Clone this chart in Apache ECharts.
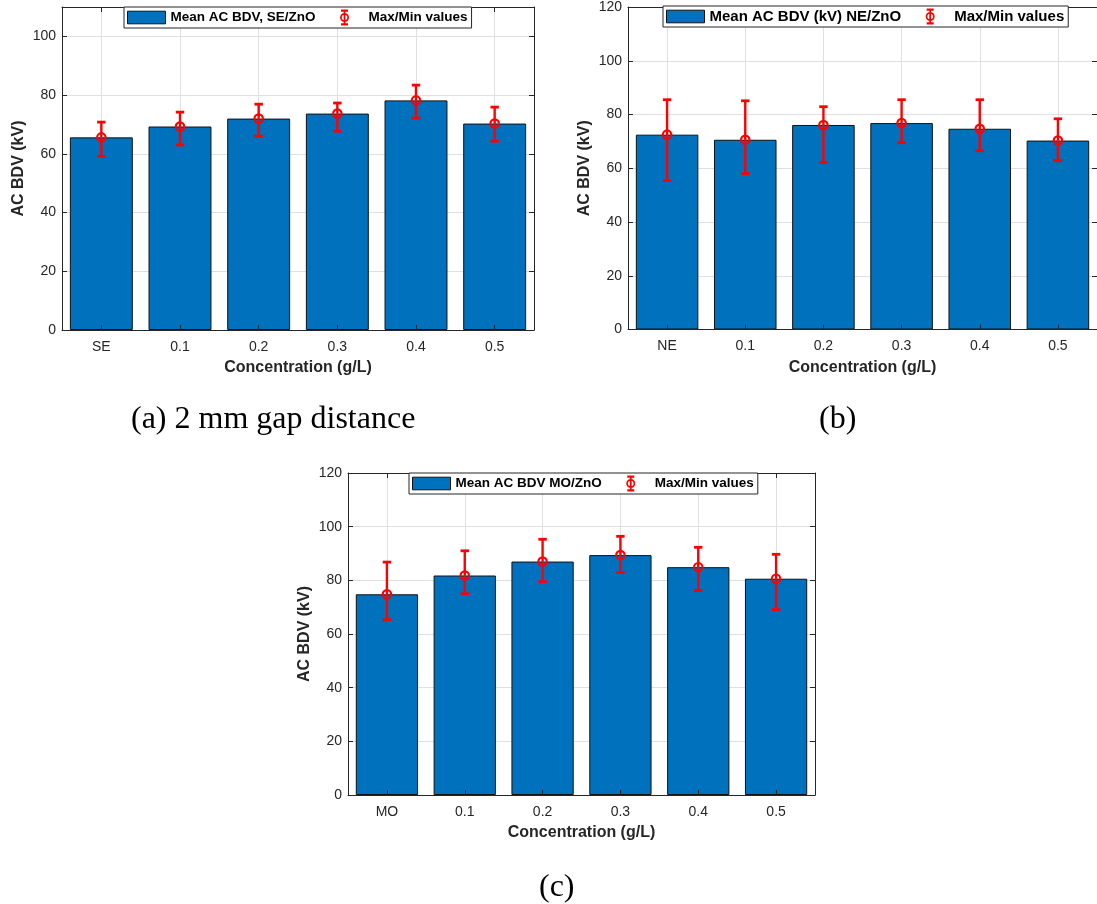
<!DOCTYPE html>
<html><head><meta charset="utf-8">
<script src="https://cdn.jsdelivr.net/npm/echarts@6/dist/echarts.min.js"></script>
<style>html,body{margin:0;padding:0;background:#fff}#c{width:1097px;height:904px}</style>
</head><body><div id="c"></div><script>
// ---- data ----
const catsA = ['SE', '0.1', '0.2', '0.3', '0.4', '0.5'];
const meanA = [65.6, 69.3, 72.0, 73.7, 78.2, 70.3];
const minA  = [59.1, 63.0, 66.0, 67.7, 72.2, 64.3];
const maxA  = [70.8, 74.2, 76.9, 77.3, 83.4, 75.9];

const catsB = ['NE', '0.1', '0.2', '0.3', '0.4', '0.5'];
const meanB = [72.5, 70.6, 76.1, 76.8, 74.7, 70.3];
const minB  = [55.4, 58.0, 62.1, 69.5, 66.5, 62.8];
const maxB  = [85.5, 85.1, 82.9, 85.5, 85.5, 78.4];

const catsC = ['MO', '0.1', '0.2', '0.3', '0.4', '0.5'];
const meanC = [74.8, 81.8, 87.0, 89.4, 84.9, 80.6];
const minC  = [65.3, 75.0, 79.5, 82.9, 76.2, 69.1];
const maxC  = [86.8, 91.0, 95.3, 96.4, 92.3, 89.7];

const yMaxes = [110, 120, 120];
const barNames = ['Mean AC BDV, SE/ZnO', 'Mean AC BDV (kV) NE/ZnO', 'Mean AC BDV MO/ZnO'];
const errName = 'Max/Min values';
const xTitle = 'Concentration (g/L)';
const yTitle = 'AC BDV (kV)';
const captions = ['(a) 2 mm gap distance', '(b)', '(c)'];

// ---- styling ----
const FONT = "'Liberation Sans', Arial, Helvetica, sans-serif";
const SERIF = "'Liberation Serif', 'Times New Roman', serif";
const AX = '#262626';
const GRIDC = '#e0e0e0';
const BLUE = '#0072BD';
const RED = '#ff0000';

const barIcon = 'path://M0 1.7L38 1.7L38 14.3L0 14.3Z M0 0 M38 16';
const errIcon = 'path://M0 8 M38 8 ' +
  'M18.1 1L19.9 1L19.9 15L18.1 15Z ' +
  'M15.5 0L22.5 0L22.5 2.2L15.5 2.2Z ' +
  'M15.5 13.8L22.5 13.8L22.5 16L15.5 16Z ' +
  'M23.5 8A4.5 4.5 0 1 1 14.5 8A4.5 4.5 0 1 1 23.5 8Z ' +
  'M21.8 8A2.8 2.8 0 1 0 16.2 8A2.8 2.8 0 1 0 21.8 8Z';

const panels = [
  {cats: catsA, mean: meanA, lo: minA, hi: maxA},
  {cats: catsB, mean: meanB, lo: minB, hi: maxB},
  {cats: catsC, mean: meanC, lo: minC, hi: maxC}
];
const grids = [
  {left: 62, top: 7, width: 472, height: 323},
  {left: 628, top: 6, width: 473, height: 323.5},
  {left: 348, top: 473, width: 467, height: 322}
];
const legendPos = [
  {left: 124, top: 7, fs: 13.5, ih: 16},
  {left: 663, top: 6, fs: 15, ih: 17},
  {left: 409, top: 473, fs: 13.5, ih: 16}
];
const captionPos = [[131, 404], [819, 404], [539, 872]];

function errRender(params, api) {
  const i = api.value(0);
  const c = api.coord([i, api.value(1)]);
  const lo = api.coord([i, api.value(2)]);
  const hi = api.coord([i, api.value(3)]);
  const hw = 4.2;
  const st = {stroke: RED, lineWidth: 2.4, fill: null};
  return {type: 'group', children: [
    {type: 'line', shape: {x1: c[0], y1: hi[1], x2: c[0], y2: lo[1]}, style: st},
    {type: 'line', shape: {x1: c[0] - hw, y1: hi[1], x2: c[0] + hw, y2: hi[1]}, style: {stroke: RED, lineWidth: 2.8}},
    {type: 'line', shape: {x1: c[0] - hw, y1: lo[1], x2: c[0] + hw, y2: lo[1]}, style: {stroke: RED, lineWidth: 2.8}},
    {type: 'circle', shape: {cx: c[0], cy: c[1], r: 4.2}, style: {stroke: RED, lineWidth: 2.2, fill: 'none'}}
  ]};
}

const xAxis = [], yAxis = [], series = [], legend = [], graphic = [];
const axLine = {show: true, onZero: false, lineStyle: {color: AX, width: 1}};
panels.forEach((p, i) => {
  xAxis.push({
    type: 'category', gridIndex: i, data: p.cats, position: 'bottom', z: 3,
    axisLine: axLine,
    axisTick: {show: true, inside: true, alignWithLabel: true, length: 5, lineStyle: {color: AX}},
    axisLabel: {color: AX, fontSize: 14, fontFamily: FONT, margin: 10},
    splitLine: {show: false},
    name: xTitle, nameLocation: 'middle', nameGap: 30,
    nameTextStyle: {fontSize: 16, fontWeight: 'bold', color: AX, fontFamily: FONT}
  });
  xAxis.push({
    type: 'category', gridIndex: i, data: p.cats, position: 'top',
    axisLine: axLine,
    axisTick: {show: true, inside: true, alignWithLabel: true, length: 5, lineStyle: {color: AX}},
    axisLabel: {show: false},
    splitLine: {show: true, alignWithLabel: true, lineStyle: {color: GRIDC, width: 1}}
  });
  yAxis.push({
    type: 'value', gridIndex: i, min: 0, max: yMaxes[i], interval: 20, position: 'left',
    axisLine: axLine,
    axisTick: {show: true, inside: true, length: 5, lineStyle: {color: AX}},
    axisLabel: {color: AX, fontSize: 14, fontFamily: FONT, margin: 6, showMaxLabel: yMaxes[i] % 20 === 0, showMinLabel: true},
    splitLine: {show: true, lineStyle: {color: GRIDC, width: 1}},
    name: yTitle, nameLocation: 'middle', nameGap: 35,
    nameTextStyle: {fontSize: 16, fontWeight: 'bold', color: AX, fontFamily: FONT}
  });
  yAxis.push({
    type: 'value', gridIndex: i, min: 0, max: yMaxes[i], interval: 20, position: 'right',
    axisLine: axLine,
    axisTick: {show: true, inside: true, length: 5, lineStyle: {color: AX}},
    axisLabel: {show: false},
    splitLine: {show: false}
  });
  series.push({
    type: 'bar', name: barNames[i], xAxisIndex: 2 * i, yAxisIndex: 2 * i,
    data: p.mean, barWidth: '80%', z: 2,
    itemStyle: {color: BLUE, borderColor: '#111', borderWidth: 1}
  });
  series.push({
    type: 'custom', name: errName, xAxisIndex: 2 * i, yAxisIndex: 2 * i, z: 3,
    itemStyle: {color: RED},
    renderItem: errRender,
    encode: {x: 0, y: [1, 2, 3]},
    data: p.mean.map((m, k) => [k, m, p.lo[k], p.hi[k]])
  });
  const lp = legendPos[i];
  legend.push({
    left: lp.left, top: lp.top, orient: 'horizontal',
    itemWidth: 38, itemHeight: lp.ih, itemGap: 10,
    padding: [2, 4, 2, 3], borderColor: AX, borderWidth: 1, backgroundColor: '#fff',
    selectedMode: false,
    textStyle: {fontSize: lp.fs, fontWeight: 'bold', color: '#000', fontFamily: FONT},
    data: [
      {name: barNames[i], icon: barIcon, itemStyle: {color: BLUE, borderColor: '#111', borderWidth: 1}},
      {name: errName, icon: errIcon, itemStyle: {color: RED, borderWidth: 0}}
    ]
  });
  graphic.push({
    type: 'text', left: captionPos[i][0], top: captionPos[i][1],
    style: {text: captions[i], font: '32px ' + SERIF, fill: '#000'}
  });
});

const chart = echarts.init(document.getElementById('c'), null, {renderer: 'canvas'});
chart.setOption({
  animation: false,
  backgroundColor: '#fff',
  grid: grids,
  xAxis, yAxis, series, legend, graphic
});
</script></body></html>
